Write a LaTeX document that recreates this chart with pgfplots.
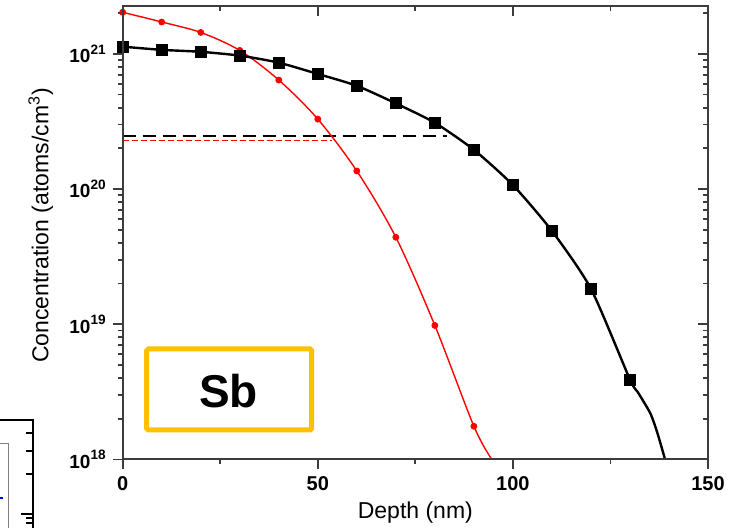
\documentclass[border=0pt]{standalone}
\usepackage{fontspec}
\setmainfont{Liberation Sans}
\usepackage{pgfplots}
\pgfplotsset{compat=1.18}
\definecolor{boxorange}{RGB}{255,192,0}
\definecolor{axgray}{RGB}{60,60,60}
\newcommand{\tl}[1]{\fontsize{10}{12}\selectfont\bfseries #1}
\newcommand{\tly}[1]{\fontsize{9.5}{11}\selectfont\bfseries 10\raisebox{0.85ex}{\fontsize{6.8}{7}\selectfont\bfseries #1}}
\begin{document}
\begin{tikzpicture}[x=1pt,y=1pt]
\useasboundingbox (0,0) rectangle (375.5,264);
% fragment of neighbouring chart (bottom-left)
\draw[black, line width=1.1pt] (0,54) -- (16.5,54) -- (16.5,0);
\foreach \yy in {47.35,38.65,26.85,4.85,2.5} {\draw[black,line width=1pt] (16.5,\yy) -- (13,\yy);}
\draw[black,line width=1pt] (16.5,6.85) -- (10.5,6.85);
\draw[gray, line width=0.5pt] (0,42.35) -- (4.15,42.35) -- (4.15,0);
\draw[blue, line width=0.6pt] (0,15) -- (1.5,15);
\begin{axis}[
  at={(61.35pt,34.25pt)}, anchor=south west,
  width=292.65pt, height=226.75pt, scale only axis,
  xmin=0, xmax=150, ymode=log, ymin=1e18, ymax=2.26e21,
  axis line style={axgray, line width=1pt},
  every tick/.style={axgray, line width=0.9pt},
  tick align=outside, xtick pos=bottom, ytick pos=left,
  major tick length=5pt, minor tick length=2.5pt,
  xtick={0,50,100,150}, minor xtick={25,75,125},
  xticklabels={\tl{0},\tl{50},\tl{100},\tl{150}},
  ytick={1e18,1e19,1e20,1e21},
  minor ytick={2e18,3e18,4e18,5e18,6e18,7e18,8e18,9e18,2e19,3e19,4e19,5e19,6e19,7e19,8e19,9e19,2e20,3e20,4e20,5e20,6e20,7e20,8e20,9e20,2e21},
  yticklabels={\tly{18},\tly{19},\tly{20},\tly{21}},
  yticklabel style={anchor=east},
  xlabel={Depth (nm)}, ylabel={Concentration (atoms/cm\textsuperscript{3})},
  label style={font=\fontsize{11.5}{13}\selectfont},
  xlabel style={at={(axis description cs:0.5,-0.131)}, anchor=base},
  ylabel style={at={(axis description cs:-0.14,0.516)}, anchor=center},
]
% dashed reference levels
\addplot[black, line width=1.2pt, dash pattern=on 6.5pt off 3.5pt] coordinates {(0,2.48e20) (83,2.48e20)};
\addplot[red, line width=0.6pt, dash pattern=on 3pt off 1.5pt] coordinates {(0,2.28e20) (53.6,2.28e20)};
% red curve
\addplot[red, line width=0.7pt, smooth, tension=0.5] coordinates {
(0,2.03e21) (10,1.72e21) (20,1.44e21) (30,1.06e21) (40,6.4e20) (50,3.29e20)
(60,1.36e20) (70,4.4e19) (80,9.8e18) (90,1.76e18) (94.6,1e18)};
\addplot[red, only marks, mark=*, mark size=1.5pt] coordinates {
(0,2.03e21) (10,1.72e21) (20,1.44e21) (30,1.06e21) (40,6.4e20) (50,3.29e20)
(60,1.36e20) (70,4.4e19) (80,9.8e18) (90,1.76e18)};
% black curve
\addplot[black, line width=1.2pt, smooth, tension=0.4] coordinates {
(0,1.13e21) (10,1.07e21) (20,1.035e21) (30,9.7e20) (40,8.6e20) (50,7.1e20)
(60,5.8e20) (70,4.3e20) (80,3.09e20) (90,1.95e20) (100,1.07e20) (110,4.9e19)
(120,1.83e19) (130,3.9e18) (132,3.15e18) (135.2,2.2e18) (137,1.58e18) (139,1e18)};
\addplot[black, only marks, mark=square*, mark size=2.75pt] coordinates {
(0,1.13e21) (10,1.07e21) (20,1.035e21) (30,9.7e20) (40,8.6e20) (50,7.1e20)
(60,5.8e20) (70,4.3e20) (80,3.09e20) (90,1.95e20) (100,1.07e20) (110,4.9e19)
(120,1.83e19) (130,3.9e18)};
\end{axis}
\begin{axis}[
  at={(61.35pt,34.25pt)}, anchor=south west,
  width=292.65pt, height=226.75pt, scale only axis,
  xmin=0, xmax=150, ymode=log, ymin=1e18, ymax=2.26e21,
  axis line style={axgray, line width=1pt},
  every tick/.style={axgray, line width=0.9pt},
  tick align=inside, xtick pos=top, ytick pos=right,
  major tick length=5pt, minor tick length=2.5pt,
  xtick={0,50,100,150}, minor xtick={25,75,125},
  ytick={1e18,1e19,1e20,1e21},
  minor ytick={2e18,3e18,4e18,5e18,6e18,7e18,8e18,9e18,2e19,3e19,4e19,5e19,6e19,7e19,8e19,9e19,2e20,3e20,4e20,5e20,6e20,7e20,8e20,9e20,2e21},
  xticklabels={}, yticklabels={},
]
\end{axis}
% Sb annotation box
\draw[boxorange, line width=2.5pt, rounded corners=0.8pt] (73.35,89.5) rectangle (155.85,49);
\node[font=\fontsize{23}{26}\selectfont\bfseries] at (114.2,68.5) {Sb};
\end{tikzpicture}
\end{document}
